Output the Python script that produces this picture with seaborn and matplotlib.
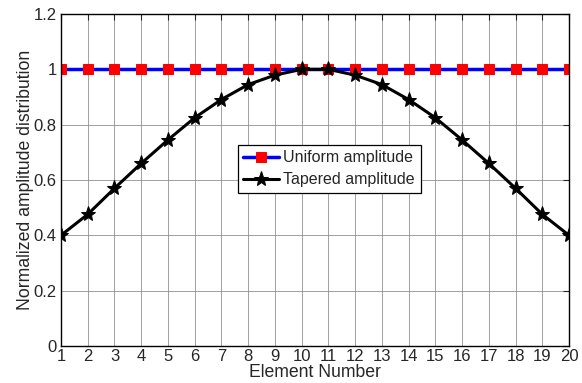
import numpy as np
import pandas as pd
import matplotlib
matplotlib.use("Agg")
import matplotlib.pyplot as plt
import seaborn as sns

elements = list(range(1, 21))
uniform = [1.0] * 20
tapered = [0.40, 0.476, 0.570, 0.660, 0.745, 0.825, 0.891, 0.945, 0.979, 1.0,
           1.0, 0.979, 0.945, 0.891, 0.825, 0.745, 0.660, 0.570, 0.476, 0.40]

sns.set_style("white")
plt.rcParams["font.family"] = ["Liberation Sans", "DejaVu Sans"]

df = pd.DataFrame({"element": elements, "uniform": uniform, "tapered": tapered})

fig = plt.figure(figsize=(5.82, 3.83), dpi=100)
ax = fig.add_axes([0.1048, 0.0966, 0.8729, 0.8668])

sns.lineplot(data=df, x="element", y="uniform", ax=ax, color="#0000ff", linewidth=2.5,
             marker="s", markersize=6.5, markerfacecolor="red", markeredgecolor="red",
             label="Uniform amplitude")
sns.lineplot(data=df, x="element", y="tapered", ax=ax, color="black", linewidth=2.2,
             marker="*", markersize=11, markerfacecolor="black", markeredgecolor="black",
             label="Tapered amplitude")

ax.set_xlim(1, 20)
ax.set_ylim(0, 1.2)
ax.set_xticks(elements)
ax.set_yticks([0, 0.2, 0.4, 0.6, 0.8, 1.0, 1.2])
ax.set_yticklabels(["0", "0.2", "0.4", "0.6", "0.8", "1", "1.2"])
ax.grid(True, color="#909090", linewidth=0.6)
ax.tick_params(direction="in", top=True, right=True, labelsize=12, length=4)
ax.tick_params(axis="x", pad=2)
ax.tick_params(axis="y", pad=3)
for s in ax.spines.values():
    s.set_color("black")
    s.set_linewidth(1.0)
ax.set_xlabel("Element Number", fontsize=12.7, labelpad=0)
ax.set_ylabel("Normalized amplitude distribution", fontsize=12.7, labelpad=0)

leg = ax.legend(loc="lower left", bbox_to_anchor=(0.348, 0.461), borderaxespad=0,
                fancybox=False, framealpha=1, edgecolor="black", fontsize=11.5,
                handlelength=2.2, borderpad=0.35, labelspacing=0.45, handletextpad=0.3)
leg.get_frame().set_linewidth(0.9)

fig.savefig("out.png", dpi=100)
